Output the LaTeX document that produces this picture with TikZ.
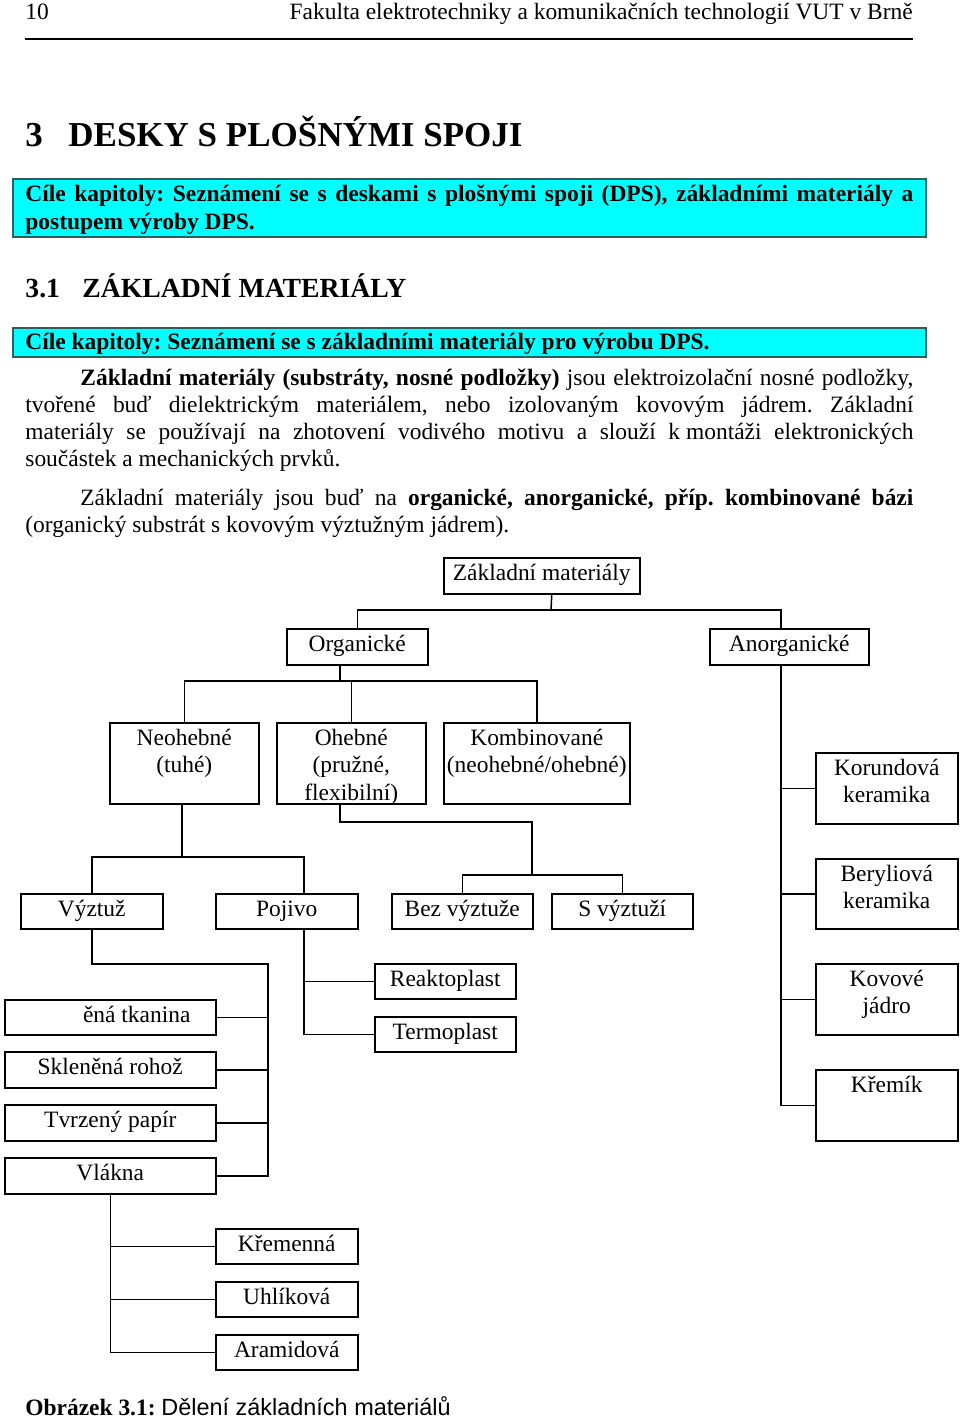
\documentclass[tikz,border=0pt]{standalone}
\usepackage{fontspec}
\setmainfont{Liberation Serif}
\newfontfamily\capsans{Liberation Sans}
\definecolor{goalfill}{RGB}{0,255,255}
\definecolor{goaledge}{RGB}{45,95,95}
\newcommand\bx[7][0pt]{%
  \node[boxs, minimum width={(#5-#3)*0.5pt}, minimum height={(#6-#4)*0.5pt}, anchor=north west] (#2) at (#3,#4) {};
  \node[btext] (#2t) at ([yshift=-1.8pt,xshift=#1]#2.north) {\strut #7};}
\frenchspacing
\begin{document}
\frenchspacing
\begin{tikzpicture}[x=0.5pt,y=-0.5pt,
  font=\fontsize{11.72}{13.8}\selectfont\frenchspacing,
  every node/.style={inner sep=0pt},
  boxs/.style={draw, line width=0.75pt, inner sep=0pt},
  btext/.style={anchor=north, inner sep=0pt, align=center, font=\fontsize{11.72}{13.8}\selectfont},
  conn/.style={line width=0.75pt},
  goalbox/.style={draw=goaledge, fill=goalfill, line width=1pt, anchor=north west},
  txt/.style={anchor=base west, inner sep=0pt}]
\useasboundingbox (0,0) rectangle (960,1419);
\fill[white] (0,0) rectangle (960,1419);

% header
\node[txt] (pg) at (25,19) {10};
\node[anchor=base east] (hdr) at (913,19) {Fakulta elektrotechniky a komunikačních technologií VUT v Brně};
\coordinate (r1) at (25,39); \coordinate (r2) at (913,39);
\draw[line width=1pt] (r1) -- (r2);

% chapter title
\node[txt, font=\fontsize{17.5}{20}\selectfont\bfseries] (chn) at (25,146) {3};
\node[txt, font=\fontsize{17.5}{20}\selectfont\bfseries] (cht) at (68,146) {DESKY S PLOŠNÝMI SPOJI};

% goal box 1
\node[goalbox, minimum width=456.5pt, minimum height=29pt] (g1) at (12,178) {};
\node[txt, font=\fontsize{11.72}{13.8}\selectfont\bfseries] (g1a) at (25,201) {\makebox[444pt][s]{Cíle kapitoly: Seznámení se s deskami s plošnými spoji (DPS), základními materiály a}};
\node[txt, font=\fontsize{11.72}{13.8}\selectfont\bfseries] (g1b) at (25,229) {postupem výroby DPS.};

% section title
\node[txt, font=\fontsize{13.85}{16}\selectfont\bfseries] (sn) at (25,297) {3.1};
\node[txt, font=\fontsize{13.85}{16}\selectfont\bfseries] (st) at (82,297) {ZÁKLADNÍ MATERIÁLY};

% goal box 2
\node[goalbox, minimum width=456.5pt, minimum height=14.5pt] (g2) at (12,327) {};
\node[txt, font=\fontsize{11.72}{13.8}\selectfont\bfseries] (g2a) at (25,349) {Cíle kapitoly: Seznámení se s základními materiály pro výrobu DPS.};

% paragraphs
\node[txt] (p1) at (80,385) {\makebox[416.5pt][s]{\textbf{Základní materiály (substráty, nosné podložky)} jsou elektroizolační nosné podložky,}};
\node[txt] (p2) at (25,412) {\makebox[444pt][s]{tvořené buď dielektrickým materiálem, nebo izolovaným kovovým jádrem. Základní}};
\node[txt] (p3) at (25,439) {\makebox[444pt][s]{materiály se používají na zhotovení vodivého motivu a slouží k\hspace{3pt}montáži elektronických}};
\node[txt] (p4) at (25,466) {součástek a mechanických prvků.};
\node[txt] (q1) at (80,505) {\makebox[416.5pt][s]{Základní materiály jsou buď na \textbf{organické, anorganické, příp. kombinované bázi}}};
\node[txt] (q2) at (25,532) {(organický substrát s kovovým výztužným jádrem).};

% diagram boxes
\bx{zm}{443}{557}{639}{593}{Základní materiály}
\bx{org}{286}{628}{427}{664}{Organické}
\bx{anorg}{709}{628}{868}{664}{Anorganické}
\bx{neo}{109}{722}{258}{803}{Neohebné\\(tuhé)}
\bx{ohe}{276}{722}{425}{803}{Ohebné\\(pružné,\\flexibilní)}
\bx{kom}{443}{722}{629}{803}{Kombinované\\(neohebné/ohebné)}
\bx{kor}{815}{752}{957}{823}{Korundová\\keramika}
\bx{ber}{815}{858}{957}{928}{Beryliová\\keramika}
\bx{kov}{815}{963}{957}{1034}{Kovové\\jádro}
\bx{krem}{815}{1069}{957}{1140}{Křemík}
\bx{vyz}{20}{893}{162}{928}{Výztuž}
\bx{poj}{215}{893}{357}{928}{Pojivo}
\bx{bez}{391}{893}{532}{928}{Bez výztuže}
\bx{svy}{551}{893}{692}{928}{S výztuží}
\bx[13.25pt]{tk}{4}{999}{215}{1034}{ěná tkanina}
\bx{skl}{4}{1051}{215}{1087}{Skleněná rohož}
\bx{tvr}{4}{1104}{215}{1140}{Tvrzený papír}
\bx{vla}{4}{1157}{215}{1193}{Vlákna}
\bx{reak}{374}{963}{515}{998}{Reaktoplast}
\bx{term}{374}{1016}{515}{1051}{Termoplast}
\bx{kre}{215}{1228}{357}{1263}{Křemenná}
\bx{uhl}{215}{1281}{357}{1316}{Uhlíková}
\bx{ara}{215}{1334}{357}{1369}{Aramidová}

% connectors
\coordinate (b1) at (551,610);
\coordinate (an1) at ([xshift=-4.25pt]anorg.north);
\draw[conn] ([xshift=5pt]zm.south) -- (b1);
\draw[conn] (org.north) |- (an1 |- b1) -- (an1);

\coordinate (o1) at ([xshift=-8.75pt]org.south);
\coordinate (b2) at (0,681);
\draw[conn] (o1) -- (o1 |- b2);
\draw[conn] (neo.north) |- (kom.north |- b2) -- (kom.north);
\draw[conn] (ohe.north) -- (ohe.north |- b2);

\coordinate (n1) at ([xshift=-1.25pt]neo.south);
\coordinate (b3) at (0,857);
\coordinate (pt) at ([xshift=8.5pt]poj.north);
\draw[conn] (n1) -- (n1 |- b3);
\draw[conn] (vyz.north) |- (pt |- b3) -- (pt);

\coordinate (h1) at ([xshift=-5.75pt]ohe.south);
\coordinate (h2) at (532,822);
\coordinate (b4) at (0,875);
\draw[conn] (h1) |- (h2) -- (h2 |- b4);
\draw[conn] (bez.north) |- (svy.north |- b4) -- (svy.north);

\coordinate (v1) at (268,964);
\draw[conn] (vyz.south) |- (v1) -- (v1 |- vla.east) -- (vla.east);
\foreach \n in {tk,skl,tvr} \draw[conn] (\n.east) -- (\n.east -| v1);

\coordinate (p2) at ([xshift=8.5pt]poj.south);
\draw[conn] (p2) |- (term.west);
\draw[conn] (reak.west) -- (reak.west -| p2);

\draw[conn] (vla.south) |- (ara.west);
\foreach \n in {kre,uhl} \draw[conn] (\n.west) -- (\n.west -| vla.south);

\coordinate (a2) at ([xshift=-4.25pt]anorg.south);
\draw[conn] (a2) |- (krem.west);
\foreach \n in {kor,ber,kov} \draw[conn] (\n.west) -- (\n.west -| a2);

% caption
\node[txt] (cap) at (25,1415) {\textbf{Obrázek 3.1:} {\capsans Dělení základních materiálů}};
\end{tikzpicture}
\end{document}
